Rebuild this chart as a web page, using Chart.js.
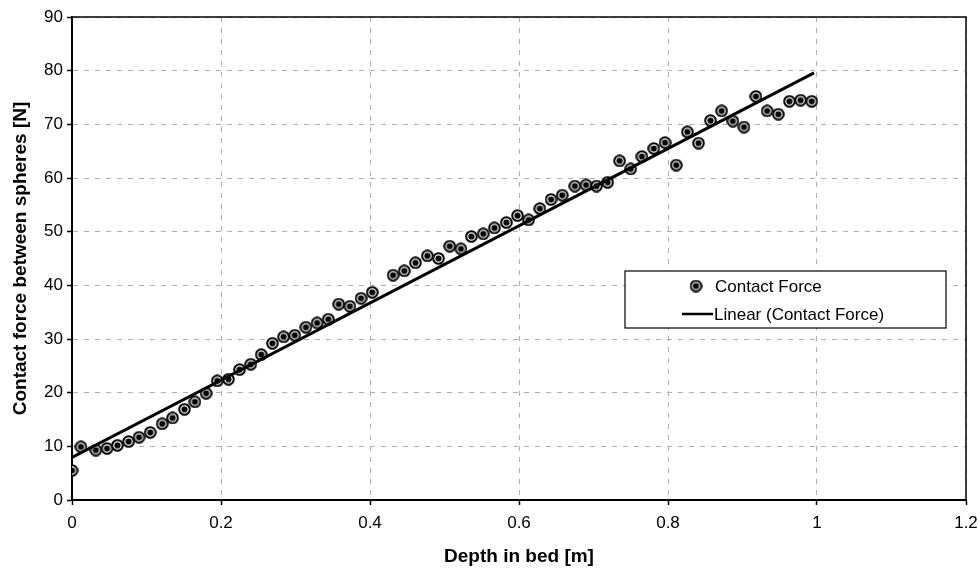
<!DOCTYPE html>
<html>
<head>
<meta charset="utf-8">
<script src="https://cdn.jsdelivr.net/npm/chart.js@4/dist/chart.umd.min.js"></script>
<style>
html,body{margin:0;padding:0;background:#fff}
#wrap{width:979px;height:570px}
</style>
</head>
<body>
<div id="wrap"><canvas id="ch" width="979" height="570"></canvas></div>
<script>
// depth [m] / contact force [N]
const depth=[0.000,0.012,0.032,0.047,0.061,0.076,0.090,0.105,0.121,0.135,0.151,0.165,0.180,0.195,0.210,0.225,
  0.240,0.254,0.269,0.284,0.299,0.314,0.329,0.344,0.358,0.373,0.388,0.403,0.431,0.446,0.461,0.477,0.492,
  0.507,0.522,0.536,0.552,0.567,0.583,0.598,0.613,0.628,0.643,0.658,0.675,0.690,0.704,0.719,0.735,0.750,
  0.765,0.781,0.796,0.811,0.826,0.841,0.857,0.872,0.887,0.902,0.918,0.933,0.948,0.963,0.978,0.993];
const force=[5.5,9.9,9.3,9.6,10.2,10.9,11.7,12.6,14.2,15.3,16.9,18.3,19.9,22.2,22.5,24.3,
  25.3,27.1,29.2,30.4,30.7,32.2,33.0,33.7,36.5,36.1,37.6,38.7,41.9,42.7,44.2,45.5,45.0,
  47.3,46.8,49.1,49.6,50.7,51.7,53.0,52.2,54.3,56.0,56.8,58.5,58.7,58.5,59.2,63.2,61.7,
  64.0,65.5,66.6,62.4,68.6,66.5,70.7,72.5,70.6,69.5,75.2,72.5,71.9,74.3,74.5,74.3];
// linear trendline end points
const trendX=[0,0.996];
const trendY=[7.95,79.6];
const xTicks={min:0,max:1.2,step:0.2};
const yTicks={min:0,max:90,step:10};
const labels={x:"Depth in bed [m]",y:"Contact force between spheres [N]",pts:"Contact Force",fit:"Linear (Contact Force)"};

const FONT="'Liberation Sans', Arial, sans-serif";
const num=v=>String(Number(v.toFixed(2)));

function marker(){
  const c=document.createElement("canvas");c.width=c.height=13;
  const g=c.getContext("2d");
  g.beginPath();g.arc(6.5,6.5,5.3,0,Math.PI*2);g.fillStyle="#fff";g.fill();
  g.lineWidth=2;g.strokeStyle="#000";g.stroke();
  g.beginPath();g.arc(6.5,6.5,3.1,0,Math.PI*2);g.fillStyle="#000";g.fill();
  return c;
}
const mk=marker();

const frame={id:"frame",afterDraw(ch){
  const a=ch.chartArea,c=ch.ctx;
  c.save();c.strokeStyle="#000";c.lineWidth=1.5;
  c.beginPath();c.moveTo(a.left,a.top);c.lineTo(a.right,a.top);c.lineTo(a.right,a.bottom);c.stroke();
  // legend box
  const L=625,T=271,W=321,H=57;
  c.fillStyle="#fff";c.fillRect(L,T,W,H);
  c.lineWidth=1.2;c.strokeRect(L,T,W,H);
  c.drawImage(mk,696-6.5,286-6.5);
  c.fillStyle="#000";c.font="17px "+FONT;c.textBaseline="middle";
  c.fillText(labels.pts,715,287);
  c.lineWidth=2.5;c.beginPath();c.moveTo(682,314);c.lineTo(713,314);c.stroke();
  c.fillText(labels.fit,714,315);
  c.restore();
}};

new Chart(document.getElementById("ch"),{
  data:{datasets:[
    {type:"line",label:labels.fit,data:trendX.map((x,i)=>({x,y:trendY[i]})),borderColor:"#000",borderWidth:3,
      pointRadius:0,fill:false,order:0},
    {type:"scatter",label:labels.pts,data:depth.map((x,i)=>({x,y:force[i]})),pointStyle:mk,pointRadius:6,order:1}
  ]},
  options:{responsive:false,animation:false,
    layout:{padding:{left:0,top:17,right:13,bottom:1}},
    plugins:{legend:{display:false},tooltip:{enabled:false}},
    scales:{
      x:{type:"linear",min:xTicks.min,max:xTicks.max,
        ticks:{stepSize:xTicks.step,color:"#000",font:{family:FONT,size:17},padding:8,callback:num},
        grid:{color:"#b0b0b0",lineWidth:1,tickColor:"#000",tickLength:5,tickWidth:1.5,tickBorderDash:[]},
        border:{color:"#000",width:2,dash:[5,6]},
        title:{display:true,text:labels.x,color:"#000",font:{family:FONT,size:19,weight:"bold"},padding:{top:0,bottom:1}},
        afterFit:s=>{s.height=69;s.paddingLeft=0;s.paddingRight=0;}},
      y:{type:"linear",min:yTicks.min,max:yTicks.max,
        ticks:{stepSize:yTicks.step,color:"#000",font:{family:FONT,size:17},padding:4,callback:num},
        grid:{color:"#b0b0b0",lineWidth:1,tickColor:"#000",tickLength:5,tickWidth:1.5,tickBorderDash:[]},
        border:{color:"#000",width:2,dash:[5,6]},
        title:{display:true,text:labels.y,color:"#000",font:{family:FONT,size:19,weight:"bold"},padding:{top:9,bottom:0}},
        afterFit:s=>{s.width=72;s.paddingTop=0;s.paddingBottom=0;}}
    }
  },
  plugins:[frame]
});
</script>
</body>
</html>
